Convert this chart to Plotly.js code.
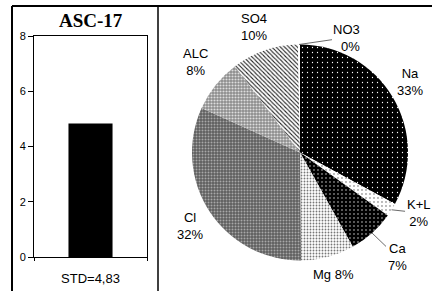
<!DOCTYPE html>
<html>
<head>
<meta charset="utf-8">
<script src="https://cdn.plot.ly/plotly-3.0.1.min.js"></script>
<style>html,body{margin:0;padding:0;background:#fff;}#chart{width:432px;height:291px;}</style>
</head>
<body>
<div id="chart"></div>
<script>
// ---- data ----
var stationName = 'ASC-17';
var stdValue = 4.83;
var yTicks = [0, 2, 4, 6, 8];
var ionLabels = ['Na', 'K+L', 'Ca', 'Mg', 'Cl', 'ALC', 'SO4', 'NO3'];
var ionValues = [33, 2, 7, 8, 32, 8, 10, 0.3];

// ---- label layout (pixel offsets of each label from its slice edge) ----
var labelOffsets = {
  'Na':  {ax: 17, ay: -15, leader: false},
  'K+L': {ax: 27, ay: 3,   leader: true},
  'Ca':  {ax: 25, ay: 24,  leader: true},
  'Mg':  {ax: 6,  ay: 18,  leader: false, oneLine: true},
  'Cl':  {ax: -20, ay: 15, leader: false},
  'ALC': {ax: -20, ay: -23, leader: false},
  'SO4': {ax: -11, ay: -23, leader: false},
  'NO3': {ax: 48, ay: -7,  leader: true, align: 'right'}
};

var stdLabel = 'STD=' + stdValue.toFixed(2).replace('.', ',');

var W = 432, H = 291;
function px(x) { return x / W; }
function py(y) { return 1 - y / H; }

// pie geometry (domain square -> center & radius)
var pieBox = {x0: 192, x1: 408, y0: 44.5, y1: 260.5};
var pcx = (pieBox.x0 + pieBox.x1) / 2, pcy = (pieBox.y0 + pieBox.y1) / 2;
var pR = Math.min(pieBox.x1 - pieBox.x0, pieBox.y1 - pieBox.y0) / 2;

var barTrace = {
  type: 'bar',
  x: [stdLabel],
  y: [stdValue],
  marker: {color: '#000', line: {width: 0}},
  xaxis: 'x', yaxis: 'y',
  hoverinfo: 'none'
};

var pieTrace = {
  type: 'pie',
  labels: ionLabels,
  values: ionValues,
  sort: false,
  direction: 'clockwise',
  rotation: 0,
  textinfo: 'none',
  showlegend: false,
  hoverinfo: 'none',
  domain: {x: [px(pieBox.x0), px(pieBox.x1)], y: [py(pieBox.y1), py(pieBox.y0)]},
  marker: {
    colors: ['#000000', '#ffffff', '#000000', '#ffffff', '#5e5e5e', '#8c8c8c', '#ffffff', '#ffffff'],
    line: {width: 0},
    pattern: {
      shape: ['.', '.', '.', '.', '.', '.', '\\', ''],
      bgcolor: ['#000000', '#ffffff', '#000000', '#ffffff', '#5e5e5e', '#8c8c8c', '#ffffff', '#ffffff'],
      fgcolor: ['#ffffff', '#555555', '#ffffff', '#777777', '#a8a8a8', '#dddddd', '#222222', '#000000'],
      size: [5, 4, 4, 3, 3, 3, 3, 4],
      solidity: [0.05, 0.1, 0.08, 0.3, 0.35, 0.4, 0.35, 0.1],
      fillmode: 'replace'
    }
  }
};

// labels: anchored on slice edge at the slice mid-angle (from data)
var total = ionValues.reduce(function (a, b) { return a + b; }, 0);
var cum = 0;
var pieAnnotations = ionLabels.map(function (lab, i) {
  var v = ionValues[i];
  var mid = (cum + v / 2) / total * 2 * Math.PI;
  cum += v;
  var ex = pcx + pR * Math.sin(mid);
  var ey = pcy - pR * Math.cos(mid);
  var pct = Math.round(v / total * 100) + '%';
  var o = labelOffsets[lab];
  return {
    xref: 'paper', yref: 'paper',
    x: px(ex), y: py(ey),
    ax: o.ax, ay: o.ay,
    text: lab + (o.oneLine ? ' ' : '<br>') + pct,
    align: o.align || 'center',
    showarrow: true,
    arrowhead: 0, arrowwidth: 0.8, standoff: 0, startstandoff: 0,
    arrowcolor: o.leader ? '#444' : 'rgba(0,0,0,0)',
    font: {family: 'Liberation Sans, Arial, sans-serif', size: 13, color: '#000'}
  };
});

var layout = {
  width: W, height: H,
  margin: {l: 0, r: 0, t: 0, b: 0},
  paper_bgcolor: '#fff',
  plot_bgcolor: '#fff',
  showlegend: false,
  bargap: 0.61,
  font: {family: 'Liberation Sans, Arial, sans-serif', color: '#000'},
  xaxis: {
    domain: [px(34), px(147)],
    type: 'category',
    range: [-0.5, 0.5],
    showline: true, linecolor: '#000', linewidth: 1, mirror: true,
    ticks: 'outside', tickson: 'boundaries', ticklen: 3, tickcolor: '#000',
    ticklabelstandoff: 9,
    tickfont: {size: 13, family: 'Liberation Sans, Arial, sans-serif'},
    showgrid: false, zeroline: false, fixedrange: true
  },
  yaxis: {
    domain: [py(257), py(36)],
    range: [0, 8],
    tickvals: yTicks,
    ticktext: yTicks.map(String),
    showline: true, linecolor: '#000', linewidth: 1, mirror: true,
    ticks: 'outside', ticklen: 5, tickcolor: '#000',
    tickfont: {size: 11, family: 'Liberation Sans, Arial, sans-serif'},
    showgrid: false, zeroline: false, fixedrange: true
  },
  annotations: [{
    xref: 'paper', yref: 'paper',
    x: px(91), y: py(21),
    xanchor: 'center', yanchor: 'middle',
    text: '<b>' + stationName + '</b>',
    showarrow: false,
    font: {family: 'Liberation Serif, Times New Roman, serif', size: 19, color: '#000'}
  }].concat(pieAnnotations),
  shapes: [
    {type: 'line', xref: 'paper', yref: 'paper', x0: px(12), x1: 1, y0: py(6), y1: py(6), line: {color: '#000', width: 2}},
    {type: 'line', xref: 'paper', yref: 'paper', x0: px(12), x1: px(12), y0: 0, y1: py(6), line: {color: '#000', width: 2}},
    {type: 'line', xref: 'paper', yref: 'paper', x0: px(158), x1: px(158), y0: 0, y1: py(6), line: {color: '#000', width: 1.5}}
  ]
};

Plotly.newPlot('chart', [barTrace, pieTrace], layout, {staticPlot: true, displayModeBar: false});
</script>
</body>
</html>
